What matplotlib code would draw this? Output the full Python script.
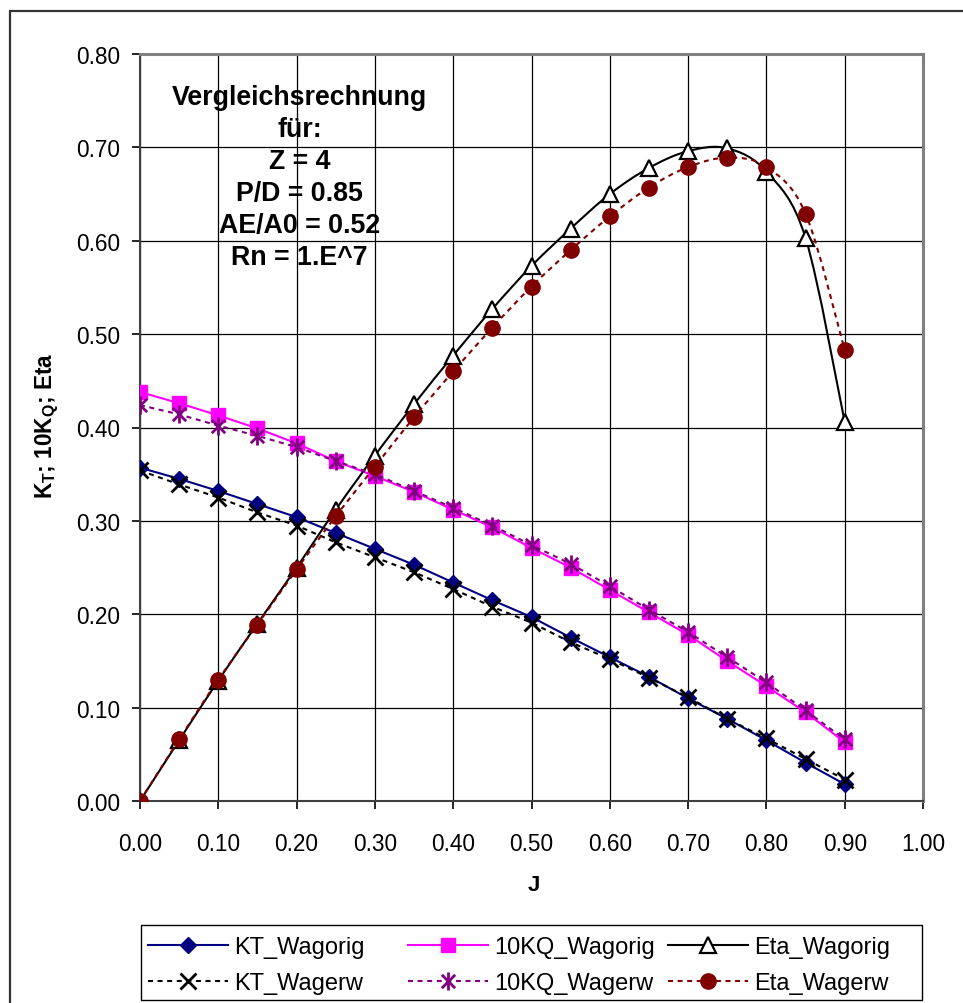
import numpy as np
import matplotlib
matplotlib.use("Agg")
import matplotlib.pyplot as plt
from matplotlib.path import Path
from matplotlib.patches import PathPatch, Rectangle
from matplotlib.lines import Line2D
import matplotlib.ticker as ticker

plt.rcParams["font.family"] = ["Liberation Sans", "DejaVu Sans"]

# advance coefficient J
J = [0.00, 0.05, 0.10, 0.15, 0.20, 0.25, 0.30, 0.35, 0.40, 0.45,
     0.50, 0.55, 0.60, 0.65, 0.70, 0.75, 0.80, 0.85, 0.90]

kt_wagorig = [0.357, 0.345, 0.332, 0.318, 0.304, 0.287, 0.270, 0.253, 0.234, 0.215,
              0.197, 0.175, 0.154, 0.133, 0.110, 0.088, 0.065, 0.041, 0.018]
kq_wagorig = [0.438, 0.426, 0.413, 0.399, 0.383, 0.364, 0.348, 0.331, 0.312, 0.293,
              0.271, 0.250, 0.226, 0.202, 0.178, 0.150, 0.123, 0.095, 0.063]
eta_wagorig = [0.000, 0.065, 0.129, 0.190, 0.250, 0.312, 0.370, 0.425, 0.477, 0.527,
               0.573, 0.613, 0.650, 0.678, 0.696, 0.699, 0.674, 0.603, 0.406]

kt_wagerw = [0.354, 0.339, 0.325, 0.309, 0.295, 0.277, 0.261, 0.245, 0.227, 0.208,
             0.191, 0.170, 0.152, 0.132, 0.111, 0.088, 0.067, 0.045, 0.023]
kq_wagerw = [0.424, 0.414, 0.402, 0.391, 0.379, 0.364, 0.350, 0.332, 0.314, 0.295,
             0.274, 0.254, 0.230, 0.205, 0.181, 0.154, 0.127, 0.097, 0.066]
eta_wagerw = [0.000, 0.066, 0.130, 0.189, 0.248, 0.305, 0.358, 0.411, 0.460, 0.507,
              0.551, 0.590, 0.626, 0.657, 0.679, 0.689, 0.679, 0.629, 0.483]

info_lines = ["Vergleichsrechnung", "für:", "Z = 4", "P/D = 0.85",
              "AE/A0 = 0.52", "Rn = 1.E^7"]

W, H = 963, 1004


def smooth_path(x, y):
    # Bezier path through the points (Excel style smoothed line)
    pts = np.column_stack([x, y]).astype(float)
    n = len(pts)
    verts = [pts[0]]
    codes = [Path.MOVETO]
    for i in range(n - 1):
        p0 = pts[i - 1] if i > 0 else pts[i]
        p1 = pts[i]
        p2 = pts[i + 1]
        p3 = pts[i + 2] if i + 2 < n else pts[i + 1]
        verts += [p1 + (p2 - p0) / 6, p2 - (p3 - p1) / 6, p2]
        codes += [Path.CURVE4] * 3
    return Path(verts, codes)


asterisk = Path([(-1, -1), (1, 1), (-1, 1), (1, -1), (0, -1.35), (0, 1.35)],
                [Path.MOVETO, Path.LINETO, Path.MOVETO, Path.LINETO,
                 Path.MOVETO, Path.LINETO])

fig = plt.figure(figsize=(W / 100, H / 100), dpi=100)
ax = fig.add_axes([140 / W, 1 - 802 / H, (923 - 140) / W, (802 - 55) / H])

lw = 1.5
dash = (0, (2.4, 2.2))

h_kt_o, = ax.plot(J, kt_wagorig, color="#000080", lw=lw, marker="D", ms=8.5,
                  mfc="#000080", mec="#000080", zorder=3)
h_kq_o, = ax.plot(J, kq_wagorig, color="#FF00FF", lw=lw, marker="s", ms=10.5,
                  mfc="#FF00FF", mec="#FF00FF", zorder=3)

ax.add_patch(PathPatch(smooth_path(J, eta_wagorig), fill=False, edgecolor="black",
                       lw=lw, zorder=3))
ax.plot(J, eta_wagorig, linestyle="none", marker="^", ms=11, mfc="white",
        mec="black", mew=1.6, zorder=3.1)
h_eta_o = Line2D([], [], color="black", lw=lw, marker="^", ms=11, mfc="white",
                 mec="black", mew=1.6)

h_kt_e, = ax.plot(J, kt_wagerw, color="black", lw=lw, linestyle=dash, marker="x",
                  ms=11, mew=2, mec="black", zorder=4)
h_kq_e, = ax.plot(J, kq_wagerw, color="#800080", lw=lw, linestyle=dash,
                  marker=asterisk, ms=13, mew=2, mec="#800080", zorder=4)

ax.add_patch(PathPatch(smooth_path(J, eta_wagerw), fill=False, edgecolor="#800000",
                       lw=lw, linestyle=dash, zorder=4))
ax.plot(J, eta_wagerw, linestyle="none", marker="o", ms=11, mfc="#800000",
        mec="#800000", zorder=4.1)
h_eta_e = Line2D([], [], color="#800000", lw=lw, linestyle=dash, marker="o",
                 ms=11, mfc="#800000", mec="#800000")

ax.set_xlim(0, 1.0)
ax.set_ylim(0, 0.8)
ax.xaxis.set_major_locator(ticker.MultipleLocator(0.1))
ax.yaxis.set_major_locator(ticker.MultipleLocator(0.1))
ax.xaxis.set_major_formatter(ticker.FormatStrFormatter("%.2f"))
ax.yaxis.set_major_formatter(ticker.FormatStrFormatter("%.2f"))
ax.tick_params(direction="out", length=5.5, width=1.2, labelsize=16.3)
ax.tick_params(axis="x", pad=17)
ax.tick_params(axis="y", pad=9)
ax.grid(True, color="black", lw=0.9)
ax.set_axisbelow(True)

for side in ["top", "right"]:
    ax.spines[side].set_color("#808080")
    ax.spines[side].set_linewidth(2.2)
for side in ["left", "bottom"]:
    ax.spines[side].set_color("#404040")
    ax.spines[side].set_linewidth(1.5)

ax.text(0.204, 0.768, "\n".join(info_lines), ha="center", va="top",
        fontsize=19.3, fontweight="bold", linespacing=1.3, zorder=5)

fig.text(47 / W, 1 - 426 / H, r"K$_\mathregular{T}$; 10K$_\mathregular{Q}$; Eta",
         rotation=90, ha="center", va="center", fontsize=16.3, fontweight="bold")
fig.text(534 / W, 1 - 886 / H, "J", ha="center", va="center", fontsize=16,
         fontweight="bold")

# legend: three columns placed at fixed x positions inside one frame
columns = [
    (148, [h_kt_o, h_kt_e], ["KT_Wagorig", "KT_Wagerw"]),
    (408, [h_kq_o, h_kq_e], ["10KQ_Wagorig", "10KQ_Wagerw"]),
    (668, [h_eta_o, h_eta_e], ["Eta_Wagorig", "Eta_Wagerw"]),
]
for x0, hs, ls in columns:
    fig.legend(hs, ls, loc="center left", bbox_to_anchor=(x0 / W, 1 - 966 / H),
               frameon=False, fontsize=17, handlelength=3.4,
               handletextpad=0.25, labelspacing=0.6, borderpad=0,
               borderaxespad=0)

fig.patches.append(Rectangle((141 / W, 1 - 1001 / H), (922 - 141) / W, 75 / H,
                             transform=fig.transFigure, fill=False,
                             edgecolor="black", lw=1.0))
fig.patches.append(Rectangle((10 / W, -0.1), 1.0, (H - 12) / H + 0.1,
                             transform=fig.transFigure, fill=False,
                             edgecolor="#333333", lw=1.6))

fig.savefig("out.png", dpi=100)
